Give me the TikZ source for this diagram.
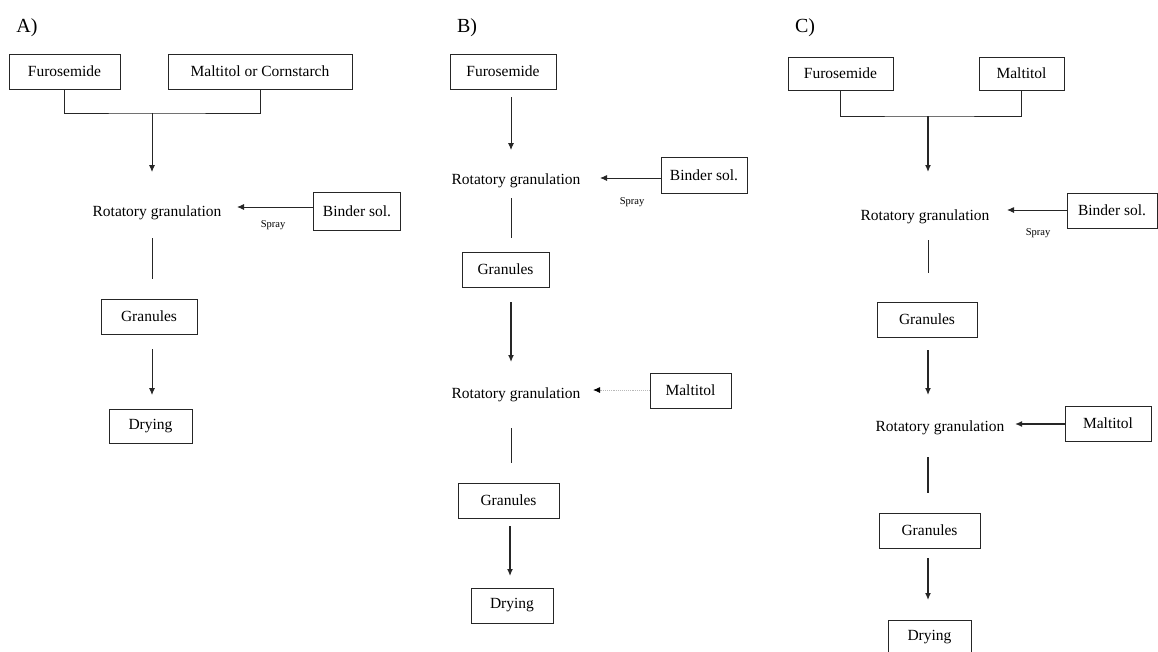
\documentclass[tikz,border=0pt]{standalone}
\usepackage{fontspec}
\setmainfont{Liberation Serif}
\usetikzlibrary{arrows.meta}
\newcommand{\txtfont}{\fontsize{15.5}{18}\selectfont}
\newcommand{\lblfont}{\fontsize{20}{22}\selectfont}
\newcommand{\sprfont}{\fontsize{10.5}{12}\selectfont}
\tikzset{
  box/.style={draw=black!85, line width=1pt, minimum height=35pt, inner sep=0pt, font=\txtfont},
  proc/.style={inner sep=0pt, font=\txtfont},
  lbl/.style={inner sep=0pt, font=\lblfont},
  spr/.style={inner sep=0pt, font=\sprfont},
  link/.style={line width=0.9pt, black!85},
  thicklink/.style={line width=1.3pt, black!85},
  arr/.style={line width=0.9pt, black!85, -{Latex[length=7pt,width=6pt]}},
  thickarr/.style={line width=1.3pt, black!85, -{Latex[length=7pt,width=6pt]}},
  fadearr/.style={line width=0.9pt, gray!55, densely dotted, -{Latex[length=7pt,width=6pt,black]}}
}
\begin{document}
\begin{tikzpicture}[x=1pt, y=-1pt]
\useasboundingbox (0,0) rectangle (1158,651);

% ---------------- Panel A ----------------
\node[lbl] (labA) at (27,28) {A)};
\node[box, minimum width=111pt] (fA) at (64.5,71.5) {Furosemide};
\node[box, minimum width=184pt] (mA) at (260,71.5) {Maltitol or Cornstarch};
\node[proc] (rA) at (157,213) {Rotatory granulation};
\node[box, minimum width=87pt, minimum height=38pt] (bA) at (357,211) {Binder sol.};
\node[spr] (sA) at (273,225) {Spray};
\node[box, minimum width=96pt] (gA) at (149,316.5) {Granules};
\node[box, minimum width=83pt, minimum height=34pt] (dA) at (150.5,426) {Drying};

\coordinate (jA) at (152,113);
\coordinate (tA1) at (152,172);
\coordinate (pA) at (237,207);
\coordinate (lA1) at (152,238);
\coordinate (lA2) at (152,279);
\coordinate (aA1) at (152,349);
\coordinate (aA2) at (152,395);
\draw[link] (fA.south) |- (jA) -| (mA.south);
\draw[arr] (jA) -- (tA1);
\draw[arr] (bA.west |- pA) -- (pA);
\draw[link] (lA1) -- (lA2);
\draw[arr] (aA1) -- (aA2);

% ---------------- Panel B ----------------
\node[lbl] (labB) at (467,28) {B)};
\node[box, minimum width=106pt] (fB) at (503,71.5) {Furosemide};
\node[proc] (rB1) at (516,181) {Rotatory granulation};
\node[box, minimum width=86pt, minimum height=36pt] (bB) at (704,175) {Binder sol.};
\node[spr] (sB) at (632,202) {Spray};
\node[box, minimum width=87pt] (gB1) at (505.5,269.5) {Granules};
\node[proc] (rB2) at (516,395) {Rotatory granulation};
\node[box, minimum width=81pt] (mB) at (690.5,390.5) {Maltitol};
\node[box, minimum width=101pt] (gB2) at (508.5,500.5) {Granules};
\node[box, minimum width=82pt] (dB) at (512,605.5) {Drying};

\coordinate (aB1s) at (511,97);
\coordinate (aB1e) at (511,150);
\coordinate (pB1) at (600,178);
\coordinate (lB1s) at (511,198);
\coordinate (lB1e) at (511,238);
\coordinate (aB2s) at (511,302);
\coordinate (aB2e) at (511,362);
\coordinate (pB2) at (593,390);
\coordinate (lB2s) at (511,428);
\coordinate (lB2e) at (511,463);
\coordinate (aB3s) at (510,526);
\coordinate (aB3e) at (510,576);
\draw[arr] (aB1s) -- (aB1e);
\draw[arr] (bB.west |- pB1) -- (pB1);
\draw[link] (lB1s) -- (lB1e);
\draw[thickarr] (aB2s) -- (aB2e);
\draw[fadearr] (mB.west |- pB2) -- (pB2);
\draw[link] (lB2s) -- (lB2e);
\draw[thickarr] (aB3s) -- (aB3e);

% ---------------- Panel C ----------------
\node[lbl] (labC) at (805,28) {C)};
\node[box, minimum width=105pt, minimum height=33pt] (fC) at (840.5,73.5) {Furosemide};
\node[box, minimum width=85pt, minimum height=33pt] (mC) at (1021.5,73.5) {Maltitol};
\node[proc] (rC1) at (925,217) {Rotatory granulation};
\node[box, minimum width=90pt] (bC) at (1112,210.5) {Binder sol.};
\node[spr] (sC) at (1038,233) {Spray};
\node[box, minimum width=100pt] (gC1) at (927,319.5) {Granules};
\node[proc] (rC2) at (940,428) {Rotatory granulation};
\node[box, minimum width=86pt] (mC2) at (1108,423.5) {Maltitol};
\node[box, minimum width=101pt] (gC2) at (929.5,530.5) {Granules};
\node[box, minimum width=83pt] (dC) at (929.5,637.5) {Drying};

\coordinate (jC) at (928,116);
\coordinate (tC1) at (928,172);
\coordinate (pC1) at (1007,210);
\coordinate (lC1s) at (928,240);
\coordinate (lC1e) at (928,273);
\coordinate (aC2s) at (928,350);
\coordinate (aC2e) at (928,395);
\coordinate (pC2) at (1015,424);
\coordinate (lC2s) at (928,457);
\coordinate (lC2e) at (928,493);
\coordinate (aC3s) at (928,558);
\coordinate (aC3e) at (928,600);
\draw[link] (fC.south) |- (jC) -| (mC.south);
\draw[thickarr] (jC) -- (tC1);
\draw[arr] (bC.west |- pC1) -- (pC1);
\draw[link] (lC1s) -- (lC1e);
\draw[thickarr] (aC2s) -- (aC2e);
\draw[thickarr] (mC2.west |- pC2) -- (pC2);
\draw[thicklink] (lC2s) -- (lC2e);
\draw[thickarr] (aC3s) -- (aC3e);
\end{tikzpicture}
\end{document}
